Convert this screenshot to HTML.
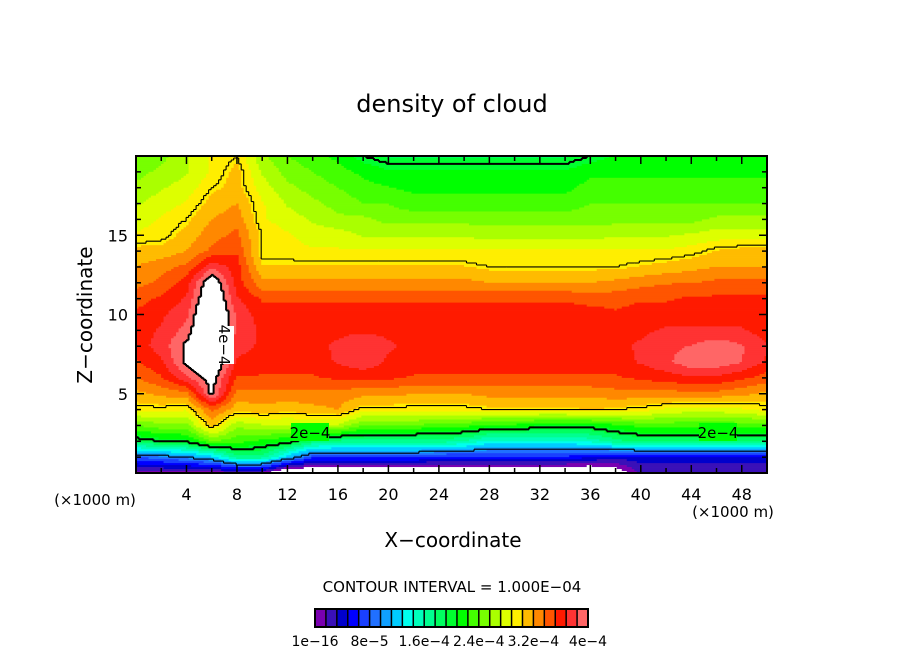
<!DOCTYPE html>
<html><head><meta charset="utf-8"><style>
html,body{margin:0;padding:0;background:#fff;}
svg text{font-family:"DejaVu Sans","Liberation Sans",sans-serif;fill:#000;}
</style></head><body>
<svg id="chart" width="904" height="654" viewBox="0 0 904 654" xmlns="http://www.w3.org/2000/svg">
<rect width="904" height="654" fill="#fff"/>
<text x="452" y="112" text-anchor="middle" font-size="24">density of cloud</text>
<g id="field"></g>
<g id="lines"></g>
<g id="axes"></g>
<text x="453" y="547" text-anchor="middle" font-size="20">X−coordinate</text>
<text transform="translate(92,315) rotate(-90)" text-anchor="middle" font-size="20">Z−coordinate</text>
<text x="95" y="505" text-anchor="middle" font-size="15">(×1000 m)</text>
<text x="733" y="517" text-anchor="middle" font-size="15">(×1000 m)</text>
<text x="452" y="592" text-anchor="middle" font-size="15">CONTOUR INTERVAL = 1.000E−04</text>
<g id="cbar"></g>
</svg>
<script>
// data grid: values in units of 1e-5; rows z=20 down to z=0, columns x=0,2,...,50 km
const xNodes=[0,2,4,6,8,10,12,14,16,18,20,22,24,26,28,30,32,34,36,38,40,42,44,46,48,50];
const zNodes=[20,19,18,17,16,15,14,13,12,11,10,9,8,7,6,5,4,3,2,1,0];
const rowsZ20_10=[
[24,25,27,29,30,26,24,23,22,20,19,19,19,19,19,19,19,19,20,21,21,21,21,22,22,22],
[25,26,27,29,31,27,25,24,23,22,21,21,21,21,21,21,21,21,22,22,22,22,22,22,22,22],
[26,27,28,30,31,28,26,25,24,23,22.5,22,22,22,22,22,22,22,23,23,23,23,23,23,23,23],
[27,28,29,31,32,29,27,26,25,24,24,23,23,23,23,23,23,23,24,24,24,24,24,24,24,24],
[28,29,30,32,33,29,28,27,26,26,25,25,25,25,25,25,25,25,25,25,25,25,25,26,26,26],
[29,29.5,31,33,34,30,29,28,28,27,27,27,27,27,26.5,26.5,26.5,26.5,26.5,27,27,27,27.5,28,28,28],
[31,31,32,34,35,29.5,29.5,29,29,29,29,29,29,29,29,29,29,29,29,29,29,29,29.5,30.5,31,31],
[32,33,34,38,36,30.5,30.5,30.5,30.5,30.5,30.5,30.5,30.5,30.5,30,30,30,30,30,30,30.5,31,31.5,32,32,32],
[33,34,36,42,36,32.5,32.5,32.5,32.5,32.5,32.5,32.5,32.5,32.5,32,32,32,32,32,32.5,33,33.5,33.5,34,34,34],
[34.5,35.5,37,43,37,35,35,35,35,35,35,35,35,35,35,35,35,35,34.5,34.5,35,35,35.5,35.5,35.5,35.5],
[35.5,36.5,38,44,38,36,36,36,36,36,36,36,36,36,36,36,36,36,36,35.5,36,36,36,36,36,35.5]];
const rowsZ9_0=[
[36,37,39,44,38,36.5,36.5,36.5,36.5,36.5,36.5,36.5,36.5,36.5,36.5,36.5,36.5,36.5,36.5,36.5,36.5,37,37,37,37,36],
[36,37.5,40.5,44,37.5,36.5,36.5,36.5,37,38,37,36.5,36.5,36.5,36.5,36.5,36.5,36.5,36.5,36.5,37,38,38.5,39.5,38.5,37],
[35,36.5,40.5,43,36.5,36,36,36,37,38,36.5,36,36,36,36,36,36,36,36,36,37,38,39.5,39.5,38.5,36.5],
[33.5,35,38,41,35,35,35,35,35.5,35.5,35.5,35,35,35,35,35,35,35,35,35,35.5,36,36.5,36.5,35.5,34.5],
[31.5,32.5,33,40.5,33,33,33,33,33,32.5,32.5,32,32,32,32.5,32.5,32.5,32.5,32.5,33,33,33,33,33,32.5,31.5],
[29.5,29.5,29,34,31,31.5,31,31.5,32,29.5,29.5,29.5,29.5,29.5,30,30,30,30,30.5,30,29.5,28.5,28,28,28.5,29.5],
[24,25,25,31,26,27,27,27,27,24,24,24,23,23,22,22,21,21,21,22,23,23,23,23,23,23],
[19,20,20.5,24,23,22,21,18,17,17,17,17,17,16,14,14,14,14,15,17,18,18,18,18,18,18],
[8,9,10,12,17,17,12,7,7,7,7,7,6,6,6,6,6,6,5,4,4,4,4,4,4,4],
[0.5,0.5,0.5,0.5,1,1,-4,-4,-4,-4,-4,-4,-4,-4,-4,-4,-4,-4,-4,-2,2,2,2,2,2,2]];
const grid=rowsZ20_10.concat(rowsZ9_0);
const colors=["#7a00b0","#3a10b8","#0000cc","#0000ff","#1a40ff","#2070ff","#10a0ff","#00ccff","#00ffee","#00ffbb","#00ff90","#00ff60","#00ff30","#00ff00","#44ff00","#77ff00","#aaff00","#ddff00","#ffee00","#ffbb00","#ff8800","#ff5500","#ff1a00","#ff3333","#ff6666","#ff9999"];
const cbarLabels=["1e−16","8e−5","1.6e−4","2.4e−4","3.2e−4","4e−4"];
const contourLevels=[10,20,30,40];
const xTicks=[4,8,12,16,20,24,28,32,36,40,44,48];
const zTicks=[5,10,15];

const NS="http://www.w3.org/2000/svg";
const X0=136,X1=767,Y0=473,Y1=156;
const sx=x=>X0+(x/50)*(X1-X0);
const sz=z=>Y0-(z/20)*(Y0-Y1);
const STEP=1.6;
function mk(tag,attrs,parent){const e=document.createElementNS(NS,tag);for(const k in attrs)e.setAttribute(k,attrs[k]);parent.appendChild(e);return e;}
function sample(x,z){
  let ci=Math.min(xNodes.length-2,Math.floor(x/2)); let tx=(x-xNodes[ci])/2;
  let r=Math.min(zNodes.length-2,Math.floor((20-z))); let tz=((20-z)-r);
  const a=grid[r][ci],b=grid[r][ci+1],c=grid[r+1][ci],d=grid[r+1][ci+1];
  return (a*(1-tx)+b*tx)*(1-tz)+(c*(1-tx)+d*tx)*tz;
}
function colorOf(v){ if(v<0||v>=40) return "#ffffff"; return colors[Math.min(24,Math.floor(v/STEP))]; }
const NX=252,NZ=160;
const field=document.getElementById('field');
const vals=[];
for(let j=0;j<NZ;j++){vals.push([]);const z=20-(j+0.5)*20/NZ;
  for(let i=0;i<NX;i++){vals[j].push(sample((i+0.5)*50/NX,z));}}
const cw=(X1-X0)/NX,ch=(Y0-Y1)/NZ;
for(let j=0;j<NZ;j++){
  let i=0;
  while(i<NX){const col=colorOf(vals[j][i]);let k=i+1;while(k<NX&&colorOf(vals[j][k])===col)k++;
    const r=mk('rect',{x:(X0+i*cw).toFixed(2),y:(Y1+j*ch).toFixed(2),width:((k-i)*cw+0.4).toFixed(2),height:(ch+0.4).toFixed(2),fill:col},field);
    
    
    i=k;}
}
const lines=document.getElementById('lines');
contourLevels.forEach(L=>{
  let d="";
  for(let j=0;j<NZ;j++)for(let i=0;i<NX;i++){
    const v=vals[j][i];
    if(i+1<NX){const w=vals[j][i+1];if((v<L)!==(w<L)){const x=X0+(i+1)*cw;d+=`M${x.toFixed(1)} ${(Y1+j*ch).toFixed(1)}V${(Y1+(j+1)*ch).toFixed(1)}`;}}
    if(j+1<NZ){const w=vals[j+1][i];if((v<L)!==(w<L)){const y=Y1+(j+1)*ch;d+=`M${(X0+i*cw).toFixed(1)} ${y.toFixed(1)}H${(X0+(i+1)*cw).toFixed(1)}`;}}
  }
  const p=mk('path',{d:d,fill:'none',stroke:'#000','stroke-width':(L===20||L===40)?2:1.1},lines);
  
  
});
[[310,432,0],[718,432,0],[225,345,90]].forEach((c,idx)=>{
  const g=mk('g',{transform:`translate(${c[0]},${c[1]}) rotate(${c[2]})`},lines);
  
  
  mk('rect',{x:-19,y:-9,width:38,height:18,fill:idx==2?'#fff':colors[13]},g);
  const t=mk('text',{x:0,y:6,'text-anchor':'middle','font-size':15},g);t.textContent=idx==2?'4e−4':'2e−4';
});
const axes=document.getElementById('axes');
mk('rect',{x:X0,y:Y1,width:X1-X0,height:Y0-Y1,fill:'none',stroke:'#000','stroke-width':2},axes);
for(let x=2;x<50;x+=2){const L=(x%4===0)?8:5;
  mk('line',{x1:sx(x),x2:sx(x),y1:Y0,y2:Y0-L,stroke:'#000','stroke-width':1.5},axes);
  mk('line',{x1:sx(x),x2:sx(x),y1:Y1,y2:Y1+L,stroke:'#000','stroke-width':1.5},axes);}
for(let z=1;z<20;z++){const L=(z%5===0)?8:5;
  mk('line',{x1:X0,x2:X0+L,y1:sz(z),y2:sz(z),stroke:'#000','stroke-width':1.5},axes);
  mk('line',{x1:X1,x2:X1-L,y1:sz(z),y2:sz(z),stroke:'#000','stroke-width':1.5},axes);}
xTicks.forEach(x=>{const t=mk('text',{x:sx(x),y:500,'text-anchor':'middle','font-size':16},axes);t.textContent=x;
  });
zTicks.forEach(z=>{const t=mk('text',{x:128,y:sz(z)+6,'text-anchor':'end','font-size':16},axes);t.textContent=z;
  });
const cb=document.getElementById('cbar');
const CB0=315,CB1=588,CBY=609,CBH=18,n=25,cwb=(CB1-CB0)/n;
for(let i=0;i<n;i++){const r=mk('rect',{x:CB0+i*cwb,y:CBY,width:cwb,height:CBH,fill:colors[i]},cb);
  }
mk('rect',{x:CB0,y:CBY,width:CB1-CB0,height:CBH,fill:'none',stroke:'#000','stroke-width':2},cb);
for(let i=1;i<n;i++)mk('line',{x1:CB0+i*cwb,x2:CB0+i*cwb,y1:CBY,y2:CBY+CBH,stroke:'#000','stroke-width':1.5},cb);
cbarLabels.forEach((s,i)=>{const t=mk('text',{x:CB0+i*5*cwb,y:646,'text-anchor':'middle','font-size':14},cb);t.textContent=s;
  });
</script>
</body></html>
